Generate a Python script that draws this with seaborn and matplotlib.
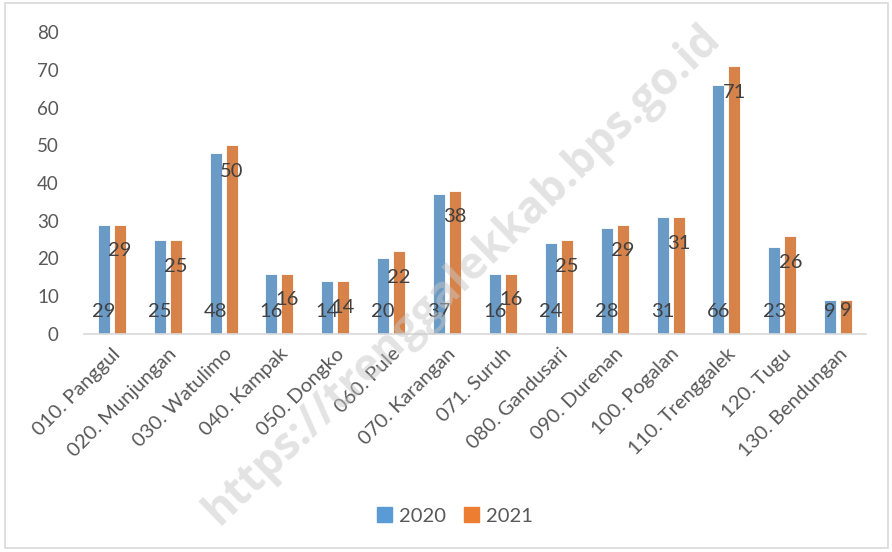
import matplotlib
matplotlib.use("Agg")
import matplotlib.pyplot as plt
import seaborn as sns
import pandas as pd
from matplotlib.patches import Rectangle

categories = ["010. Panggul", "020. Munjungan", "030. Watulimo", "040. Kampak",
              "050. Dongko", "060. Pule", "070. Karangan", "071. Suruh",
              "080. Gandusari", "090. Durenan", "100. Pogalan", "110. Trenggalek",
              "120. Tugu", "130. Bendungan"]
vals_2020 = [29, 25, 48, 16, 14, 20, 37, 16, 24, 28, 31, 66, 23, 9]
vals_2021 = [29, 25, 50, 16, 14, 22, 38, 16, 25, 29, 31, 71, 26, 9]
years = ["2020", "2021"]
yticks = [0, 10, 20, 30, 40, 50, 60, 70, 80]
watermark = "https://trenggalekkab.bps.go.id"
colors = ["#5B9BD5", "#ED7D31"]

df = pd.DataFrame({
    "Kecamatan": categories * 2,
    "Tahun": [years[0]] * len(categories) + [years[1]] * len(categories),
    "Nilai": vals_2020 + vals_2021,
})

sns.set_theme(style="white")
plt.rcParams['font.family'] = ['Lato', 'DejaVu Sans']

fig = plt.figure(figsize=(8.92, 5.52), dpi=100)
ax = fig.add_axes([0.094, 0.395, 0.877, 0.547])

sns.barplot(data=df, x="Kecamatan", y="Nilai", hue="Tahun", palette=colors,
            width=0.572, gap=0.25, ax=ax, edgecolor="white", linewidth=0.6,
            legend=True)

ax.set_xlim(-0.5, len(categories) - 0.5)
ax.set_ylim(0, 80)
ax.set_yticks(yticks)
ax.set_yticklabels([str(t) for t in yticks], fontsize=13.5, color="#595959")
ax.tick_params(axis="y", length=0, pad=18)
ax.tick_params(axis="x", length=0, pad=8)
ax.set_xticks(range(len(categories)))
ax.set_xticklabels(categories, rotation=45, ha="right", rotation_mode="anchor",
                   fontsize=14.5, color="#595959")
ax.set_xlabel("")
ax.set_ylabel("")
for s in ["top", "right", "left"]:
    ax.spines[s].set_visible(False)
ax.spines["bottom"].set_color("#d9d9d9")
ax.spines["bottom"].set_linewidth(1.2)

off = 0.143
for i in range(len(categories)):
    ax.text(i - off, 5.9, str(vals_2020[i]), ha="center", va="center",
            fontsize=14.5, color="#404040", zorder=5)
    y21 = max(vals_2021[i] - 7.0, 6.3)
    ax.text(i + off, y21, str(vals_2021[i]), ha="center", va="center",
            fontsize=14.5, color="#404040", zorder=5)

ax.legend_.remove()
handles = [Rectangle((0, 0), 1, 1, color=c) for c in colors]
fig.legend(handles, years, loc="center", bbox_to_anchor=(0.51, 0.065), ncol=2,
           frameon=False, fontsize=14.5, handlelength=0.75, handleheight=0.75,
           handletextpad=0.35, columnspacing=0.9, labelcolor="#595959")

fig.text(0.518, 0.502, watermark, rotation=44, ha="center", va="center",
         fontsize=32, fontweight="bold", family="Open Sans", color="#c8c8c8",
         alpha=0.5, zorder=10)

fig.add_artist(Rectangle((0.006, 0.007), 0.989, 0.988, transform=fig.transFigure,
                         fill=False, edgecolor="#d9d9d9", linewidth=1.2))

fig.savefig("out.png", dpi=100, facecolor="white")
